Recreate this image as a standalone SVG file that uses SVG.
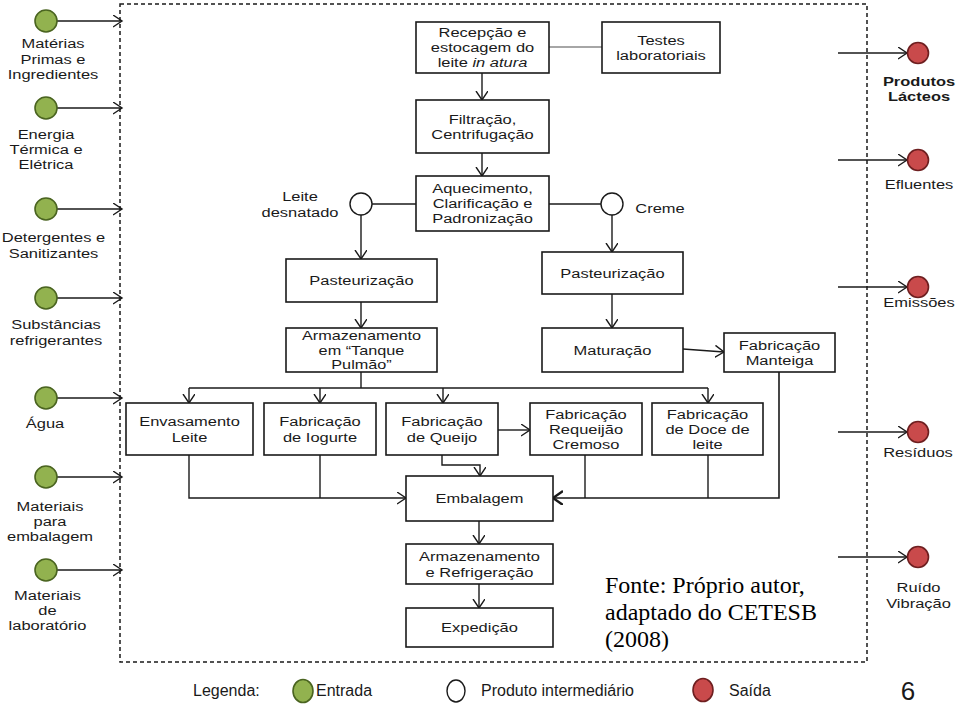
<svg xmlns="http://www.w3.org/2000/svg" width="960" height="705" viewBox="0 0 960 705">
<style>
.t{font-family:"Liberation Sans",Arial,sans-serif;font-size:13.5px;fill:#1a1a1a;text-anchor:middle}
.s{font-size:12.5px}
.b{font-weight:bold}
.box{fill:#fff;stroke:#1a1a1a;stroke-width:1.6}
.ln{fill:none;stroke:#1a1a1a;stroke-width:1.4}
.ar{fill:none;stroke:#1a1a1a;stroke-width:1.4;marker-end:url(#ah)}
.in{fill:#92b24f;stroke:#4a6420;stroke-width:1.6}
.out{fill:#c94a4b;stroke:#6e1f20;stroke-width:1.6}
.mid{fill:#fff;stroke:#1a1a1a;stroke-width:1.4}
.lg{font-family:"Liberation Sans",Arial,sans-serif;font-size:16px;fill:#1a1a1a}
.src{font-family:"Liberation Serif","Times New Roman",serif;font-size:24px;fill:#000}
</style>
<defs>
<marker id="ah" markerUnits="userSpaceOnUse" markerWidth="12" markerHeight="14" refX="9" refY="6" orient="auto">
<path d="M0,0 L9,6 L0,12" fill="none" stroke="#1a1a1a" stroke-width="1.4"/>
</marker>
<marker id="ahb" markerUnits="userSpaceOnUse" markerWidth="14" markerHeight="16" refX="10" refY="7" orient="auto">
<path d="M0,0 L10,7 L0,14" fill="none" stroke="#1a1a1a" stroke-width="2.4"/>
</marker>
</defs>
<rect width="960" height="705" fill="#fff"/>
<rect id="boundary" x="120" y="4" width="747" height="658" fill="none" stroke="#1a1a1a" stroke-width="1.5" stroke-dasharray="4 3"/>

<g id="connectors">
<line x1="549" y1="47" x2="602" y2="47" stroke="#888" stroke-width="1.4"/>
<line class="ar" x1="482" y1="73" x2="482" y2="100"/>
<line class="ar" x1="482" y1="153" x2="482" y2="176"/>
<line class="ln" x1="372" y1="204" x2="416" y2="204"/>
<line class="ln" x1="549" y1="204" x2="601" y2="204"/>
<line class="ar" x1="361" y1="215" x2="361" y2="259"/>
<line class="ar" x1="612" y1="215" x2="612" y2="252"/>
<line class="ar" x1="361" y1="302" x2="361" y2="328"/>
<line class="ln" x1="361" y1="372" x2="361" y2="388"/>
<line class="ln" x1="189" y1="388" x2="708" y2="388"/>
<line class="ar" x1="189" y1="388" x2="189" y2="403"/>
<line class="ar" x1="320" y1="388" x2="320" y2="403"/>
<line class="ar" x1="443" y1="388" x2="443" y2="403"/>
<line class="ar" x1="708" y1="388" x2="708" y2="403"/>
<line class="ar" x1="612" y1="294" x2="612" y2="328"/>
<line class="ar" x1="683" y1="349" x2="724" y2="352"/>
<line class="ar" x1="498" y1="430" x2="530" y2="430"/>
<polyline class="ar" points="189,455 189,498 406,498"/>
<line class="ln" x1="320" y1="455" x2="320" y2="498"/>
<polyline class="ar" points="442,455 442,465 480,465 480,476"/>
<polyline points="779,372 779,498 553,498" fill="none" stroke="#1a1a1a" stroke-width="1.6" marker-end="url(#ahb)"/>
<line class="ln" x1="585" y1="455" x2="585" y2="498"/>
<line class="ln" x1="708" y1="455" x2="708" y2="498"/>
<line class="ar" x1="479" y1="521" x2="479" y2="544"/>
<line class="ar" x1="479" y1="584" x2="479" y2="608"/>
<line class="ar" x1="57" y1="21" x2="122" y2="21"/>
<line class="ar" x1="57" y1="108" x2="122" y2="108"/>
<line class="ar" x1="57" y1="209" x2="122" y2="209"/>
<line class="ar" x1="57" y1="298" x2="122" y2="298"/>
<line class="ar" x1="57" y1="398" x2="122" y2="398"/>
<line class="ar" x1="57" y1="477" x2="122" y2="477"/>
<line class="ar" x1="57" y1="570" x2="122" y2="570"/>
<line class="ar" x1="838" y1="53" x2="907" y2="53"/>
<line class="ar" x1="838" y1="160" x2="907" y2="160"/>
<line class="ar" x1="838" y1="287" x2="907" y2="287"/>
<line class="ar" x1="838" y1="432" x2="907" y2="432"/>
<line class="ar" x1="838" y1="557" x2="907" y2="557"/>
</g>

<g id="recepcao"><rect class="box" x="416" y="22" width="133" height="51"/>
<g transform="translate(482.5,0) scale(1.22,1)"><text class="t" x="0" y="37.1">Recepção e</text><text class="t" x="0" y="52.3">estocagem do</text><text class="t" x="0" y="67.5">leite <tspan font-style="italic">in atura</tspan></text></g></g>
<g id="testes"><rect class="box" x="602" y="22" width="118" height="51"/>
<g transform="translate(661,0) scale(1.22,1)"><text class="t" x="0" y="44.9">Testes</text><text class="t" x="0" y="60.1">laboratoriais</text></g></g>
<g id="filtracao"><rect class="box" x="416" y="100" width="133" height="53"/>
<g transform="translate(482.5,0) scale(1.22,1)"><text class="t" x="0" y="123.9">Filtração,</text><text class="t" x="0" y="139.1">Centrifugação</text></g></g>
<g id="aquecimento"><rect class="box" x="416" y="176" width="133" height="55"/>
<g transform="translate(482.5,0) scale(1.22,1)"><text class="t" x="0" y="193.1">Aquecimento,</text><text class="t" x="0" y="208.3">Clarificação e</text><text class="t" x="0" y="223.5">Padronização</text></g></g>
<g id="leite-desnatado"><circle class="mid" cx="361" cy="204" r="11"/>
<g transform="translate(300,0) scale(1.22,1)"><text class="t" x="0" y="201.4">Leite</text><text class="t" x="0" y="216.6">desnatado</text></g></g>
<g id="creme"><circle class="mid" cx="612" cy="204" r="11"/>
<g transform="translate(660,0) scale(1.22,1)"><text class="t" x="0" y="213">Creme</text></g></g>
<g id="pasteurizacao-1"><rect class="box" x="286" y="259" width="151" height="43"/>
<g transform="translate(361.5,0) scale(1.22,1)"><text class="t" x="0" y="285.5">Pasteurização</text></g></g>
<g id="armazenamento-tanque"><rect class="box" x="286" y="328" width="151" height="44"/>
<g transform="translate(361.5,0) scale(1.3,1)"><text class="t s" x="0" y="340.3">Armazenamento</text><text class="t s" x="0" y="354.6">em “Tanque</text><text class="t s" x="0" y="368.9">Pulmão”</text></g></g>
<g id="pasteurizacao-2"><rect class="box" x="542" y="252" width="141" height="42"/>
<g transform="translate(612.5,0) scale(1.22,1)"><text class="t" x="0" y="278">Pasteurização</text></g></g>
<g id="maturacao"><rect class="box" x="542" y="328" width="141" height="44"/>
<g transform="translate(612.5,0) scale(1.22,1)"><text class="t" x="0" y="355">Maturação</text></g></g>
<g id="manteiga"><rect class="box" x="724" y="333" width="111" height="39"/>
<g transform="translate(779.5,0) scale(1.22,1)"><text class="t" x="0" y="349.9">Fabricação</text><text class="t" x="0" y="365.1">Manteiga</text></g></g>
<g id="envasamento"><rect class="box" x="126" y="403" width="127" height="52"/>
<g transform="translate(189.5,0) scale(1.22,1)"><text class="t" x="0" y="426.4">Envasamento</text><text class="t" x="0" y="441.6">Leite</text></g></g>
<g id="iogurte"><rect class="box" x="264" y="403" width="112" height="52"/>
<g transform="translate(320,0) scale(1.22,1)"><text class="t" x="0" y="426.4">Fabricação</text><text class="t" x="0" y="441.6">de Iogurte</text></g></g>
<g id="queijo"><rect class="box" x="386" y="403" width="112" height="52"/>
<g transform="translate(442,0) scale(1.22,1)"><text class="t" x="0" y="426.4">Fabricação</text><text class="t" x="0" y="441.6">de Queijo</text></g></g>
<g id="requeijao"><rect class="box" x="530" y="403" width="112" height="52"/>
<g transform="translate(586,0) scale(1.22,1)"><text class="t" x="0" y="418.6">Fabricação</text><text class="t" x="0" y="433.8">Requeijão</text><text class="t" x="0" y="449">Cremoso</text></g></g>
<g id="doce-de-leite"><rect class="box" x="652" y="403" width="111" height="52"/>
<g transform="translate(707.5,0) scale(1.22,1)"><text class="t" x="0" y="418.6">Fabricação</text><text class="t" x="0" y="433.8">de Doce de</text><text class="t" x="0" y="449">leite</text></g></g>
<g id="embalagem"><rect class="box" x="406" y="476" width="147" height="45"/>
<g transform="translate(479.5,0) scale(1.22,1)"><text class="t" x="0" y="503.5">Embalagem</text></g></g>
<g id="armazenamento-refrigeracao"><rect class="box" x="406" y="544" width="147" height="40"/>
<g transform="translate(479.5,0) scale(1.22,1)"><text class="t" x="0" y="561.4">Armazenamento</text><text class="t" x="0" y="576.6">e Refrigeração</text></g></g>
<g id="expedicao"><rect class="box" x="406" y="608" width="147" height="39"/>
<g transform="translate(479.5,0) scale(1.22,1)"><text class="t" x="0" y="632.5">Expedição</text></g></g>

<g id="in-materias"><circle class="in" cx="46" cy="21" r="11"/>
<g transform="translate(53,0) scale(1.22,1)"><text class="t" x="0" y="48.5">Matérias</text><text class="t" x="0" y="63.7">Primas e</text><text class="t" x="0" y="78.9">Ingredientes</text></g></g>
<g id="in-energia"><circle class="in" cx="46" cy="108" r="11"/>
<g transform="translate(46,0) scale(1.22,1)"><text class="t" x="0" y="138.8">Energia</text><text class="t" x="0" y="154">Térmica e</text><text class="t" x="0" y="169.2">Elétrica</text></g></g>
<g id="in-detergentes"><circle class="in" cx="46" cy="209" r="11"/>
<g transform="translate(53.5,0) scale(1.22,1)"><text class="t" x="0" y="242.4">Detergentes e</text><text class="t" x="0" y="257.6">Sanitizantes</text></g></g>
<g id="in-substancias"><circle class="in" cx="46" cy="298" r="11"/>
<g transform="translate(56,0) scale(1.22,1)"><text class="t" x="0" y="329.4">Substâncias</text><text class="t" x="0" y="344.6">refrigerantes</text></g></g>
<g id="in-agua"><circle class="in" cx="46" cy="398" r="11"/>
<g transform="translate(45,0) scale(1.22,1)"><text class="t" x="0" y="428">Água</text></g></g>
<g id="in-embalagem"><circle class="in" cx="46" cy="477" r="11"/>
<g transform="translate(50,0) scale(1.22,1)"><text class="t" x="0" y="510.8">Materiais</text><text class="t" x="0" y="526">para</text><text class="t" x="0" y="541.2">embalagem</text></g></g>
<g id="in-laboratorio"><circle class="in" cx="46" cy="570" r="11"/>
<g transform="translate(47.5,0) scale(1.22,1)"><text class="t" x="0" y="599.8">Materiais</text><text class="t" x="0" y="615">de</text><text class="t" x="0" y="630.2">laboratório</text></g></g>

<g id="out-produtos"><circle class="out" cx="918" cy="53" r="10.5"/>
<g transform="translate(919,0) scale(1.22,1)"><text class="t b" x="0" y="85.9">Produtos</text><text class="t b" x="0" y="101.1">Lácteos</text></g></g>
<g id="out-efluentes"><circle class="out" cx="918" cy="160" r="10.5"/>
<g transform="translate(919,0) scale(1.22,1)"><text class="t" x="0" y="189">Efluentes</text></g></g>
<g id="out-emissoes"><circle class="out" cx="918" cy="287" r="10.5"/>
<g transform="translate(919,0) scale(1.22,1)"><text class="t" x="0" y="307">Emissões</text></g></g>
<g id="out-residuos"><circle class="out" cx="918" cy="432" r="10.5"/>
<g transform="translate(918,0) scale(1.22,1)"><text class="t" x="0" y="457">Resíduos</text></g></g>
<g id="out-ruido"><circle class="out" cx="918" cy="557" r="10.5"/>
<g transform="translate(918.5,0) scale(1.22,1)"><text class="t" x="0" y="592.4">Ruído</text><text class="t" x="0" y="607.6">Vibração</text></g></g>

<g id="fonte">
<text class="src" x="605" y="593">Fonte: Próprio autor,</text>
<text class="src" x="605" y="620">adaptado do CETESB</text>
<text class="src" x="605" y="647">(2008)</text>
</g>

<g id="legenda">
<text class="lg" x="193" y="696">Legenda:</text>
<ellipse class="in" cx="303" cy="691" rx="10" ry="11.5"/>
<text class="lg" x="316" y="696">Entrada</text>
<ellipse class="mid" cx="456" cy="691" rx="9" ry="11"/>
<text class="lg" x="481" y="696">Produto intermediário</text>
<ellipse class="out" cx="703" cy="690" rx="10" ry="11.5"/>
<text class="lg" x="729" y="696">Saída</text>
<text x="908" y="700" font-family="Liberation Sans,Arial,sans-serif" font-size="26" text-anchor="middle" fill="#1a1a1a">6</text>
</g>
</svg>
